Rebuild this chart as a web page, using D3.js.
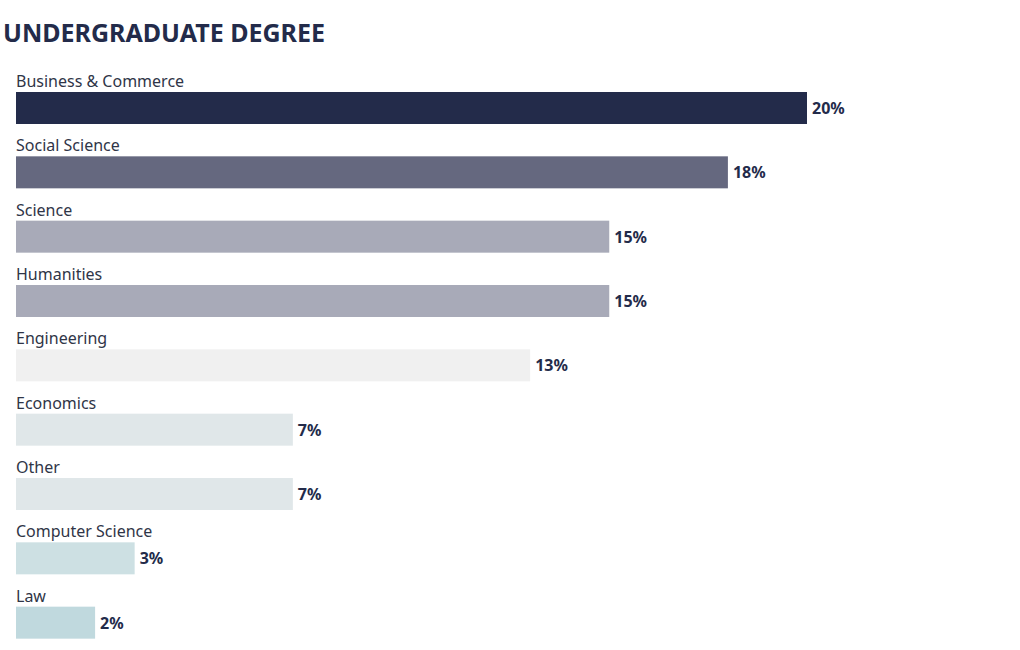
<!DOCTYPE html>
<html>
<head>
<meta charset="utf-8">
<script src="https://cdn.jsdelivr.net/npm/d3@7"></script>
<style>
  body { margin: 0; background: #fff; }
  text { font-family: "Source Sans Pro", "Noto Sans", sans-serif; }
</style>
</head>
<body>
<script>
//chart data
var categories = ["Business & Commerce", "Social Science", "Science", "Humanities",
    "Engineering", "Economics", "Other", "Computer Science", "Law"];
var values = [20, 18, 15, 15, 13, 7, 7, 3, 2];
var barColors = ["#232b4a", "#65687f", "#a8aab8", "#a8aab8", "#f0f0f0",
    "#e0e7e9", "#e0e7e9", "#cde0e3", "#c0d9de"];

window.onload = drawChart();

function drawChart(){

    var width = 1020,
        height = 650;

    var svg = d3.select("body")
        .append("svg")
        .attr("width", width)
        .attr("height", height);

    //title
    svg.append("text")
        .attr("x", 3)
        .attr("y", 42)
        .attr("fill", "#232b4a")
        .style("font-size", "25px")
        .style("font-weight", "bold")
        .text("UNDERGRADUATE DEGREE");

    //x scale: 0% at left edge, 20% at 807px
    var x = d3.scaleLinear()
        .domain([0, 20])
        .range([16, 807]);

    //each row holds a label and a bar
    var y = d3.scaleBand()
        .domain(categories)
        .range([64, 643])
        .paddingInner(0);

    var rows = svg.selectAll(".row")
        .data(categories)
        .enter()
        .append("g")
        .attr("class", "row")
        .attr("transform", function(d){ return "translate(0," + y(d) + ")"; });

    rows.append("text")
        .attr("x", x(0))
        .attr("y", 23)
        .attr("fill", "#2f3547")
        .style("font-size", "16px")
        .text(function(d){ return d; });

    rows.append("rect")
        .attr("x", x(0))
        .attr("y", 28)
        .attr("height", 32)
        .attr("width", function(d, i){ return x(values[i]) - x(0); })
        .attr("fill", function(d, i){ return barColors[i]; });

    rows.append("text")
        .attr("x", function(d, i){ return x(values[i]) + 5; })
        .attr("y", 50)
        .attr("fill", "#232b4a")
        .style("font-size", "16px")
        .style("font-weight", "bold")
        .text(function(d, i){ return values[i] + "%"; });
};
</script>
</body>
</html>
